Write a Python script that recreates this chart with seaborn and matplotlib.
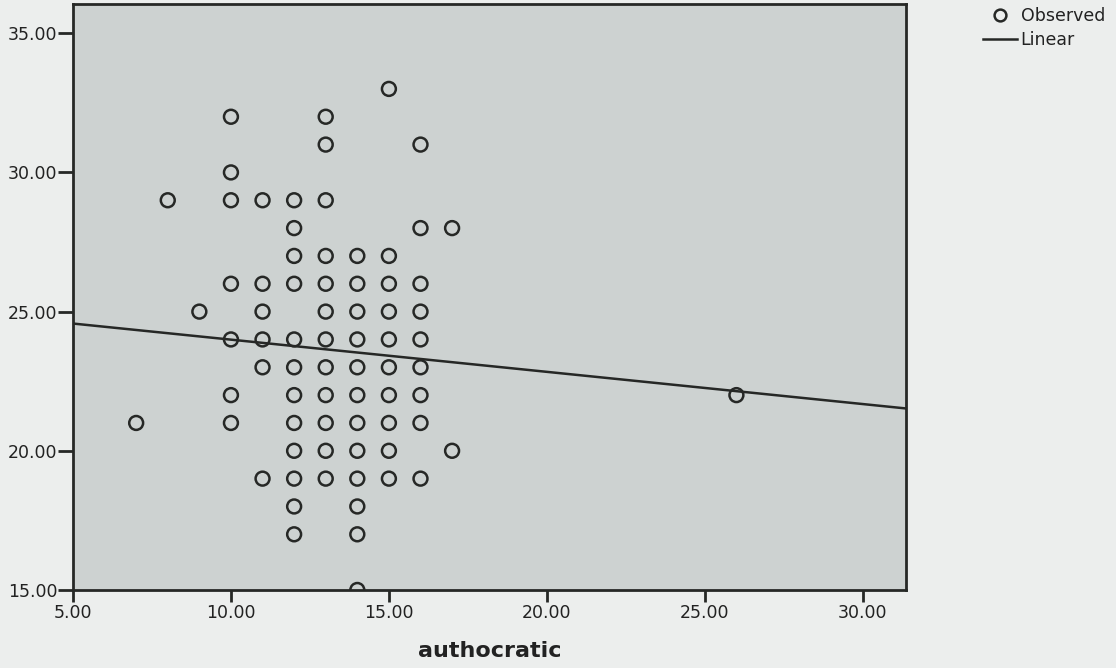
import numpy as np
import pandas as pd
import seaborn as sns
import matplotlib.pyplot as plt
from matplotlib.lines import Line2D

# authocratic score (x) -> observed score (y), read column by column
x_vals = [7, 8, 9,
          10, 10, 10, 10, 10, 10, 10,
          11, 11, 11, 11, 11, 11,
          12, 12, 12, 12, 12, 12, 12, 12, 12, 12, 12, 12,
          13, 13, 13, 13, 13, 13, 13, 13, 13, 13, 13, 13,
          14, 14, 14, 14, 14, 14, 14, 14, 14, 14, 14, 14,
          15, 15, 15, 15, 15, 15, 15, 15, 15, 15,
          16, 16, 16, 16, 16, 16, 16, 16, 16,
          17, 17, 26]
y_vals = [21, 29, 25,
          32, 30, 29, 26, 24, 22, 21,
          29, 26, 25, 24, 23, 19,
          29, 28, 27, 26, 24, 23, 22, 21, 20, 19, 18, 17,
          32, 31, 29, 27, 26, 25, 24, 23, 22, 21, 20, 19,
          27, 26, 25, 24, 23, 22, 21, 20, 19, 18, 17, 15,
          33, 27, 26, 25, 24, 23, 22, 21, 20, 19,
          31, 28, 26, 25, 24, 23, 22, 21, 19,
          28, 20, 22]
# linear fit as drawn in the original (the scatter hides duplicate cases)
fit_intercept = 25.15
fit_slope = -0.1157
x_ticks = [5, 10, 15, 20, 25, 30]
y_ticks = [15, 20, 25, 30, 35]

df = pd.DataFrame({'authocratic': x_vals, 'score': y_vals})

plt.rcParams['font.family'] = ['DejaVu Sans']
fig = plt.figure(figsize=(11.16, 6.68), dpi=100, facecolor='#eceeed')
ax = fig.add_axes([0.0654, 0.1168, 0.7462, 0.8772])
ax.set_facecolor('#cdd2d1')

ink = '#262826'
xlim = (5, 31.36)
sns.scatterplot(data=df, x='authocratic', y='score', ax=ax, marker='o',
                s=100, facecolor='none', edgecolor=ink, linewidth=1.8, zorder=3)

xs = np.array(xlim)
sns.lineplot(x=xs, y=fit_intercept + fit_slope * xs, ax=ax, color=ink,
             linewidth=1.8, zorder=2)

ax.set_xlim(*xlim)
ax.set_ylim(15, 36.05)
ax.set_xticks(x_ticks)
ax.set_yticks(y_ticks)
ax.set_xticklabels([f'{v:.2f}' for v in x_ticks])
ax.set_yticklabels([f'{v:.2f}' for v in y_ticks])
ax.tick_params(axis='x', direction='out', length=8.6, width=2, color=ink,
               labelsize=12.5, labelcolor='#222222', pad=1.5)
ax.tick_params(axis='y', direction='out', length=11, width=2, color=ink,
               labelsize=12.5, labelcolor='#222222', pad=0.3)
for sp in ax.spines.values():
    sp.set_color(ink)
    sp.set_linewidth(2.0)
ax.set_xlabel('authocratic', fontsize=16, fontweight='bold', color='#222222', labelpad=14)
ax.set_ylabel('')

handles = [Line2D([], [], marker='o', linestyle='none', markerfacecolor='none',
                  markeredgecolor=ink, markeredgewidth=1.8, markersize=8.5),
           Line2D([], [], color=ink, linewidth=1.8)]
leg = fig.legend(handles, ['Observed', 'Linear'], loc='upper left',
                 bbox_to_anchor=(0.881, 0.989), frameon=False, fontsize=12.5,
                 handlelength=1.95, handletextpad=0.2, labelspacing=0.32,
                 borderpad=0.0, borderaxespad=0.0)
for t in leg.get_texts():
    t.set_color('#222222')

fig.savefig('out.png', dpi=100, facecolor=fig.get_facecolor())
